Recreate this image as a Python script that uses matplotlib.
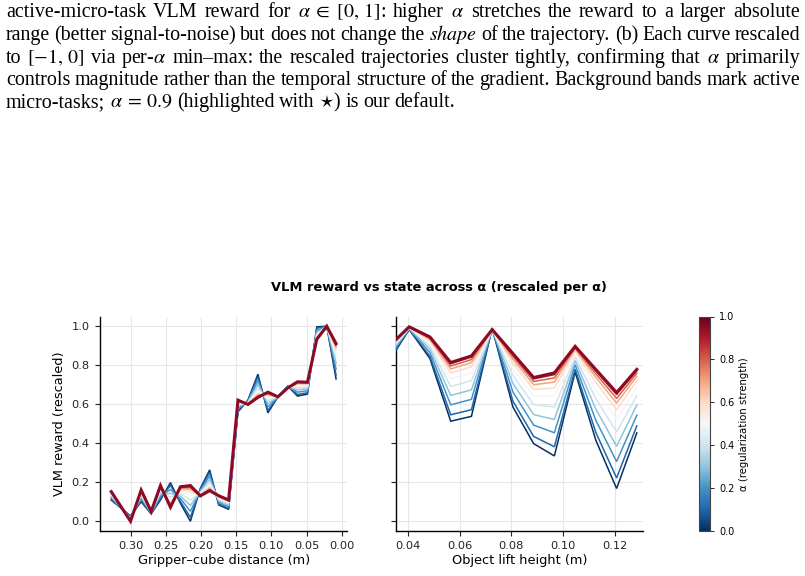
import matplotlib
matplotlib.use("Agg")
import matplotlib.pyplot as plt
import numpy as np
from matplotlib.cm import ScalarMappable
from matplotlib.colors import Normalize

plt.rcParams['mathtext.fontset'] = 'stix'

# ---------------- data ----------------
alphas = [0.0, 0.1, 0.2, 0.3, 0.4, 0.5, 0.6, 0.7, 0.8, 0.9, 1.0]

gripper_dist = [0.3274, 0.300, 0.2849, 0.2707, 0.2575, 0.2433, 0.2291, 0.2150,
                0.2008, 0.1876, 0.1748, 0.1607, 0.1474, 0.1333, 0.1191, 0.1049,
                0.0907, 0.0766, 0.0629, 0.0487, 0.0355, 0.0213, 0.0081]

reward_reach = [
    [0.109, 0.027, 0.100, 0.038, 0.109, 0.198, 0.092, 0.000, 0.169, 0.263, 0.084, 0.061, 0.561, 0.621, 0.754, 0.556, 0.638, 0.693, 0.642, 0.652, 0.997, 1.0, 0.730],
    [0.114, 0.024, 0.107, 0.039, 0.117, 0.184, 0.101, 0.020, 0.165, 0.251, 0.089, 0.066, 0.568, 0.619, 0.741, 0.568, 0.638, 0.692, 0.650, 0.659, 0.990, 1.0, 0.750],
    [0.121, 0.019, 0.117, 0.041, 0.130, 0.163, 0.116, 0.051, 0.158, 0.233, 0.097, 0.074, 0.578, 0.615, 0.721, 0.586, 0.638, 0.690, 0.662, 0.669, 0.979, 1.0, 0.781],
    [0.128, 0.015, 0.126, 0.043, 0.142, 0.143, 0.129, 0.081, 0.152, 0.216, 0.105, 0.082, 0.587, 0.611, 0.702, 0.603, 0.638, 0.689, 0.674, 0.679, 0.969, 1.0, 0.810],
    [0.134, 0.011, 0.135, 0.045, 0.153, 0.124, 0.142, 0.108, 0.146, 0.200, 0.112, 0.089, 0.596, 0.608, 0.684, 0.619, 0.638, 0.688, 0.685, 0.688, 0.959, 1.0, 0.837],
    [0.140, 0.008, 0.143, 0.047, 0.162, 0.107, 0.153, 0.132, 0.141, 0.187, 0.118, 0.096, 0.604, 0.605, 0.668, 0.632, 0.638, 0.687, 0.695, 0.696, 0.951, 1.0, 0.860],
    [0.144, 0.005, 0.149, 0.048, 0.170, 0.095, 0.162, 0.150, 0.137, 0.176, 0.123, 0.100, 0.610, 0.603, 0.656, 0.643, 0.638, 0.686, 0.702, 0.702, 0.945, 1.0, 0.878],
    [0.147, 0.003, 0.153, 0.049, 0.175, 0.086, 0.168, 0.163, 0.134, 0.169, 0.126, 0.104, 0.614, 0.601, 0.648, 0.650, 0.638, 0.685, 0.707, 0.706, 0.940, 1.0, 0.891],
    [0.149, 0.002, 0.156, 0.049, 0.179, 0.080, 0.172, 0.172, 0.132, 0.163, 0.128, 0.106, 0.617, 0.600, 0.642, 0.656, 0.638, 0.685, 0.711, 0.709, 0.937, 1.0, 0.900],
    [0.151, 0.001, 0.159, 0.050, 0.182, 0.075, 0.175, 0.179, 0.131, 0.159, 0.130, 0.108, 0.620, 0.599, 0.637, 0.660, 0.638, 0.684, 0.714, 0.712, 0.934, 1.0, 0.907],
    [0.152, 0.000, 0.160, 0.050, 0.183, 0.072, 0.177, 0.183, 0.130, 0.157, 0.131, 0.109, 0.621, 0.599, 0.635, 0.662, 0.638, 0.684, 0.715, 0.713, 0.933, 1.0, 0.911],
]

lift_height = [0.0355, 0.0406, 0.0486, 0.0566, 0.0646, 0.0726, 0.0806,
               0.0886, 0.0966, 0.1046, 0.1126, 0.1206, 0.1284]

reward_lift = [
    [0.877, 0.983, 0.834, 0.513, 0.538, 0.990, 0.586, 0.398, 0.335, 0.766, 0.415, 0.168, 0.453],
    [0.883, 0.985, 0.846, 0.546, 0.572, 0.989, 0.616, 0.435, 0.382, 0.780, 0.455, 0.222, 0.489],
    [0.892, 0.987, 0.865, 0.597, 0.625, 0.987, 0.663, 0.493, 0.454, 0.803, 0.517, 0.306, 0.544],
    [0.901, 0.989, 0.883, 0.645, 0.674, 0.986, 0.707, 0.547, 0.522, 0.824, 0.575, 0.384, 0.596],
    [0.909, 0.991, 0.899, 0.691, 0.721, 0.985, 0.748, 0.598, 0.586, 0.843, 0.629, 0.458, 0.645],
    [0.917, 0.993, 0.914, 0.730, 0.761, 0.984, 0.783, 0.642, 0.642, 0.860, 0.676, 0.522, 0.688],
    [0.922, 0.994, 0.925, 0.760, 0.792, 0.984, 0.811, 0.676, 0.684, 0.873, 0.713, 0.571, 0.720],
    [0.926, 0.995, 0.933, 0.781, 0.814, 0.983, 0.830, 0.700, 0.714, 0.883, 0.738, 0.606, 0.743],
    [0.929, 0.996, 0.938, 0.796, 0.829, 0.983, 0.844, 0.717, 0.735, 0.889, 0.756, 0.630, 0.759],
    [0.931, 0.997, 0.943, 0.808, 0.842, 0.983, 0.855, 0.730, 0.752, 0.894, 0.771, 0.650, 0.772],
    [0.932, 0.997, 0.945, 0.814, 0.848, 0.983, 0.860, 0.737, 0.761, 0.897, 0.778, 0.660, 0.779],
]

reach_xticks = [0.30, 0.25, 0.20, 0.15, 0.10, 0.05, 0.00]
lift_xticks = [0.04, 0.06, 0.08, 0.10, 0.12]
yticks = [0.0, 0.2, 0.4, 0.6, 0.8, 1.0]
cbar_ticks = [0.0, 0.2, 0.4, 0.6, 0.8, 1.0]

caption_lines = [
    (r"active-micro-task VLM reward for $\alpha\;\in\;[0,\,1]$: higher $\alpha$ stretches the reward to a larger absolute", True),
    (r"range (better signal-to-noise) but does not change the $\mathit{shape}$ of the trajectory. (b) Each curve rescaled", True),
    (r"to $[-1,\,0]$ via per-$\alpha$ min–max: the rescaled trajectories cluster tightly, confirming that $\alpha$ primarily", True),
    (r"controls magnitude rather than the temporal structure of the gradient. Background bands mark active", True),
    (r"micro-tasks; $\alpha\:=\:0.9$ (highlighted with $\star$) is our default.", False),
]

# ---------------- figure ----------------
W, H = 805, 576
fig = plt.figure(figsize=(W / 100, H / 100), dpi=100)
renderer = fig.canvas.get_renderer()

# caption (justified)
cap_x0, cap_x1 = 6, 800
baselines = [17, 40, 63, 85, 107]
for (line, justify), base in zip(caption_lines, baselines):
    words = line.split(" ")
    texts = [fig.text(0, 1 - base / H, w, fontsize=14.4, family="Liberation Serif",
                      va="baseline", ha="left") for w in words]
    widths = [t.get_window_extent(renderer).width for t in texts]
    if justify:
        gap = (cap_x1 - cap_x0 - sum(widths)) / (len(words) - 1)
    else:
        gap = 4.5
    x = cap_x0
    for t, w in zip(texts, widths):
        t.set_x(x / W)
        x += w + gap

# axes
ax_b = 1 - 531 / H
ax_h = (531 - 316.5) / H
ax1 = fig.add_axes([100 / W, ax_b, 247.3 / W, ax_h])
ax2 = fig.add_axes([396 / W, ax_b, 247.3 / W, ax_h], sharey=ax1)
cax = fig.add_axes([699 / W, ax_b, 11.3 / W, ax_h])

cmap = plt.get_cmap("RdBu_r")
norm = Normalize(0, 1)
highlight_color = "#8b0a26"

for ax, xs, rows in [(ax1, gripper_dist, reward_reach), (ax2, lift_height, reward_lift)]:
    for i, (a, ys) in enumerate(zip(alphas, rows)):
        last = i == len(alphas) - 1
        ax.plot(xs, ys, color=highlight_color if last else cmap(norm(a)),
                lw=2.2 if last else 1.1, zorder=3 + i, solid_joinstyle="miter")
    ax.grid(True, color="#e6e6e6", lw=0.8)
    ax.set_axisbelow(True)
    for s in ["top", "right"]:
        ax.spines[s].set_visible(False)
    for s in ["left", "bottom"]:
        ax.spines[s].set_linewidth(1.0)
    ax.tick_params(direction="out", length=3.5, width=0.8, labelsize=8.2,
                   colors="#222222", pad=4)

ax1.set_xticks(reach_xticks)
ax1.set_xticklabels([f"{v:.2f}" for v in reach_xticks])
ax1.invert_xaxis()
ax1.set_yticks(yticks)
ax1.set_yticklabels([f"{v:.1f}" for v in yticks])
ax1.set_ylim(-0.05, 1.05)
ax1.set_xlabel("Gripper–cube distance (m)", fontsize=9.3, labelpad=2)
ax1.set_ylabel("VLM reward (rescaled)", fontsize=9.3, labelpad=4)

ax2.set_xticks(lift_xticks)
ax2.set_xticklabels([f"{v:.2f}" for v in lift_xticks])
ax2.set_xlim(0.0355, 0.1309)
ax2.tick_params(labelleft=False)
ax2.set_xlabel("Object lift height (m)", fontsize=9.3, labelpad=2)

fig.text(439 / W, 1 - 287 / H, "VLM reward vs state across α (rescaled per α)",
         ha="center", va="center", fontsize=9.4, fontweight="bold")

sm = ScalarMappable(norm=norm, cmap=cmap)
cb = fig.colorbar(sm, cax=cax, ticks=cbar_ticks)
cb.ax.tick_params(labelsize=7, length=3, width=0.6)
cb.outline.set_linewidth(0.8)
cb.outline.set_edgecolor("#444444")
cb.set_label("α (regularization strength)", fontsize=7.3, labelpad=3)

fig.savefig("out.png", dpi=100)
